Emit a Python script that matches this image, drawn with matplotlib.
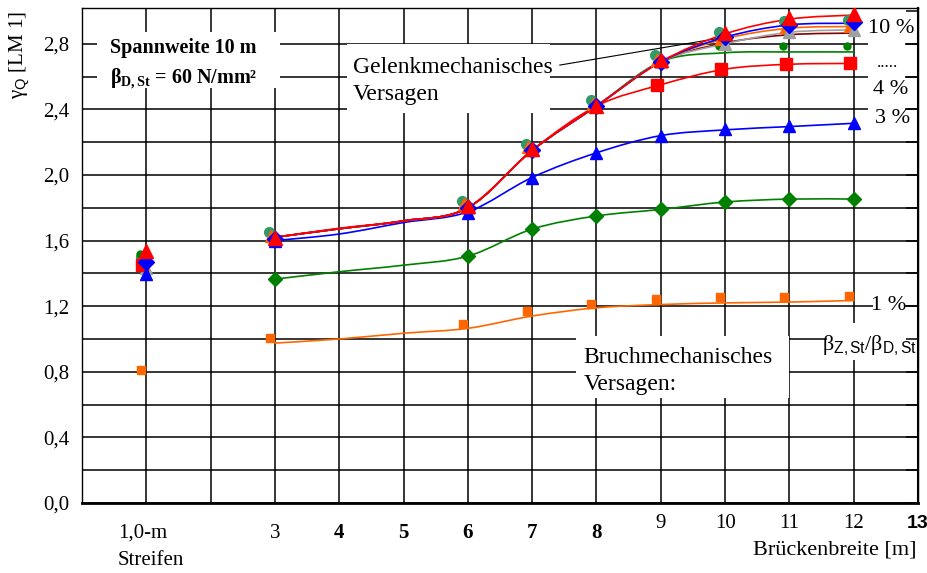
import numpy as np
import matplotlib
matplotlib.use("Agg")
import matplotlib.pyplot as plt
from matplotlib.path import Path
from matplotlib.patches import PathPatch, Rectangle

plt.rcParams['font.family'] = ['Liberation Serif', 'DejaVu Serif']
plt.rcParams['mathtext.fontset'] = 'custom'
plt.rcParams['mathtext.rm'] = 'Liberation Serif'
plt.rcParams['mathtext.it'] = 'Liberation Serif:italic'
plt.rcParams['mathtext.bf'] = 'Liberation Serif:bold'
plt.rcParams['mathtext.sf'] = 'Liberation Sans'

# Brueckenbreite [m]
breite = [3, 4, 5, 6, 7, 8, 9, 10, 11, 12]
breite_pkt = [3, 6, 7, 8, 9, 10, 11, 12]
x_labels = ['3', '4', '5', '6', '7', '8', '9', '10', '11', '12']

# Kurven (geglaettet)
kurve_10 = [1.62, 1.675, 1.72, 1.80, 2.15, 2.42, 2.69, 2.86, 2.95, 2.975]
kurve_9 = [1.62, 1.672, 1.72, 1.80, 2.15, 2.42, 2.69, 2.84, 2.915, 2.925]
kurve_8 = [1.62, 1.672, 1.72, 1.80, 2.15, 2.42, 2.69, 2.83, 2.895, 2.905]
kurve_7 = [1.62, 1.672, 1.72, 1.80, 2.15, 2.42, 2.69, 2.80, 2.87, 2.885]
kurve_6 = [1.62, 1.672, 1.72, 1.80, 2.15, 2.42, 2.69, 2.805, 2.855, 2.865]
kurve_5 = [1.62, 1.672, 1.72, 1.80, 2.15, 2.42, 2.69, 2.745, 2.75, 2.75]
kurve_4 = [1.62, 1.672, 1.72, 1.80, 2.15, 2.42, 2.55, 2.645, 2.675, 2.68]
kurve_3 = [1.60, 1.64, 1.71, 1.775, 1.985, 2.135, 2.24, 2.275, 2.295, 2.315]
kurve_2 = [1.365, 1.41, 1.45, 1.505, 1.67, 1.75, 1.79, 1.835, 1.853, 1.853]
kurve_1 = [0.975, 1.00, 1.035, 1.065, 1.14, 1.19, 1.21, 1.22, 1.225, 1.235]

# Einzelwerte (1,0-m Streifen und Brueckenbreiten)
pkt_10 = [1.535, 1.615, 1.81, 2.16, 2.42, 2.70, 2.865, 2.955, 2.98]
pkt_9 = [1.47, 1.61, 1.80, 2.15, 2.42, 2.69, 2.84, 2.915, 2.93]
pkt_9b = [1.50, 1.65, 1.84, 2.19, 2.46, 2.73, 2.87, 2.94, 2.945]
pkt_8 = [1.49, 1.63, 1.82, 2.17, 2.43, 2.70, 2.83, 2.90, 2.91]
pkt_7 = [1.43, 1.61, 1.80, 2.15, 2.42, 2.69, 2.80, 2.87, 2.885]
pkt_6 = [2.865]
pkt_5 = [1.52, 2.785, 2.785, 2.785]
pkt_4 = [1.45, 2.55, 2.645, 2.675, 2.68]
pkt_3 = [1.395, 1.595, 1.77, 1.98, 2.135, 2.24, 2.28, 2.30, 2.315]
pkt_2 = [1.365, 1.505, 1.67, 1.75, 1.79, 1.835, 1.853, 1.853]
pkt_1 = [0.81, 1.005, 1.09, 1.17, 1.215, 1.245, 1.255, 1.255, 1.265]

x_alle = [1] + breite_pkt
x_5 = [1, 10, 11, 12]
x_4 = [1, 9, 10, 11, 12]


def glatt(ax, xs, ys, farbe, lw=1.2, z=4):
    # Bezier-Glaettung wie bei Excel-Liniendiagrammen
    p = np.column_stack([xs, ys]).astype(float)
    n = len(p)
    verts = [p[0]]
    codes = [Path.MOVETO]
    for i in range(n - 1):
        p0 = p[i - 1] if i > 0 else p[i]
        p3 = p[i + 2] if i + 2 < n else p[i + 1]
        c1 = p[i] + (p[i + 1] - p0) / 6.0
        c2 = p[i + 1] - (p3 - p[i]) / 6.0
        verts += [c1, c2, p[i + 1]]
        codes += [Path.CURVE4] * 3
    ax.add_patch(PathPatch(Path(verts, codes), fill=False, edgecolor=farbe,
                           lw=lw, zorder=z, capstyle='round'))


fig = plt.figure(figsize=(9.28, 5.73), dpi=100)
ax = fig.add_axes([82 / 928, 1 - 503 / 573, 836 / 928, 495 / 573])
ax.set_xlim(0, 13)
ax.set_ylim(0, 3.018)

# Gitter
ax.set_xticks(range(1, 13))
ax.set_xticklabels([])
ax.set_yticks(np.arange(0, 2.81, 0.4))
ax.set_yticklabels(['0,0', '0,4', '0,8', '1,2', '1,6', '2,0', '2,4', '2,8'])
ax.set_yticks(np.arange(0.2, 2.7, 0.4), minor=True)
ax.grid(True, which='both', color='black', lw=1.1)
ax.tick_params(axis='both', which='both', length=0)
ax.tick_params(axis='y', labelsize=15, pad=9)
for s in ['left', 'top', 'right']:
    ax.spines[s].set_linewidth(1.0)
ax.spines['bottom'].set_linewidth(2.0)
ax.spines['bottom'].set_zorder(6)

# x-Beschriftung
for xv, lab in zip(breite, x_labels):
    fett = lab in ['4', '5', '6', '7', '8']
    ax.text(xv, -0.183 if xv < 9 else -0.125, lab, ha='center', va='center',
            fontsize=15, fontweight='bold' if fett else 'normal')
ax.text(0.56, -0.183, '1,0-m', ha='left', va='center', fontsize=15)
ax.text(0.55, -0.35, 'Streifen', ha='left', va='center', fontsize=15)
ax.text(13, -0.125, '13', ha='center', va='center', fontsize=14,
        fontweight='bold', family='Liberation Sans')
ax.text(12.97, -0.285, 'Brückenbreite [m]', ha='right', va='center', fontsize=16)
fig.text(20 / 928, 1 - 55 / 573, r'$\mathrm{\gamma}_{\mathsf{Q}}$ [LM 1]',
         rotation=90, ha='center', va='center', fontsize=15)

# Kurven
glatt(ax, breite, kurve_1, '#FF6600')
glatt(ax, breite, kurve_2, '#008000')
glatt(ax, breite, kurve_3, '#0000FF')
glatt(ax, breite, kurve_5, '#008000', z=4.1)
glatt(ax, breite, kurve_6, '#800000', z=4.2)
glatt(ax, breite, kurve_7, '#A0A0A0', z=4.3)
glatt(ax, breite, kurve_8, '#FF6600', z=4.4)
glatt(ax, breite, kurve_9, '#0000FF', z=4.5)
glatt(ax, breite, kurve_4, '#FF0000', z=4.6)
glatt(ax, breite, kurve_10, '#FF0000', z=4.7)

# Markierungen
mk = dict(ls='none', zorder=5)
ax.plot(np.array(x_alle) - 0.08, pkt_1, marker='s', ms=5.5, color='#FF6600', **mk)
ax.plot(breite_pkt, pkt_2, marker='D', ms=7.5, color='#008000', **mk)
ax.plot(np.array(x_alle) - 0.09, pkt_9b, marker='o', ms=7, color='#339966', **mk)
ax.plot(np.array(x_5) - 0.1, pkt_5, marker='o', ms=5, color='#008000', **mk)
ax.plot([12], pkt_6, marker='v', ms=5, color='#800000', **mk)
ax.plot(np.array(x_alle) - 0.06, pkt_8, marker='^', ms=8, color='#FF6600', **mk)
ax.plot(x_alle, pkt_7, marker='^', ms=9, color='#A0A0A0', **mk)
ax.plot(np.array(x_4) - 0.06, pkt_4, marker='s', ms=8, color='#FF0000', **mk)
ax.plot(x_alle, pkt_9, marker='D', ms=8, color='#0000FF', **mk)
ax.plot(x_alle, pkt_3, marker='^', ms=9, color='#0000FF', **mk)
ax.plot(x_alle, pkt_10, marker='^', ms=10.5, color='#FF0000', **mk)


# Textfelder
def feld(x0, x1, y0, y1):
    ax.add_patch(Rectangle((x0, y0), x1 - x0, y1 - y0, facecolor='white',
                           edgecolor='none', zorder=3))


feld(0.233, 3.08, 2.53, 2.87)
ax.text(0.43, 2.775, 'Spannweite 10 m', fontsize=14.5, fontweight='bold',
        va='center', zorder=7)
ax.text(0.43, 2.585, r'$\mathbf{\beta_{D,St}}$ = 60 N/mm²', fontsize=14.5,
        fontweight='bold', va='center', zorder=7)

feld(4.12, 7.28, 2.38, 2.80)
ax.text(4.21, 2.655, 'Gelenkmechanisches', fontsize=17, va='center', zorder=7)
ax.text(4.21, 2.49, 'Versagen', fontsize=17, va='center', zorder=7)
ax.plot([7.43, 10.0], [2.67, 2.84], color='black', lw=0.8, zorder=3.5)

feld(7.68, 10.99, 0.64, 1.02)
ax.text(7.8, 0.89, 'Bruchmechanisches', fontsize=17, va='center', zorder=7)
ax.text(7.8, 0.725, 'Versagen:', fontsize=17, va='center', zorder=7)

feld(11.58, 13.0, 0.87, 1.10)
ax.text(12.24, 0.96, r'$\mathrm{\beta}_{\mathsf{Z,St}}/\mathrm{\beta}_{\mathsf{D,St}}$',
        fontsize=16, ha='center', va='center', zorder=7)

feld(12.3, 12.8, 1.115, 1.29)
ax.text(12.55, 1.205, '1 %', fontsize=16, ha='center', va='center', zorder=7)

feld(12.22, 12.8, 2.27, 3.0)
ax.text(12.58, 2.895, '10 %', fontsize=16, ha='center', va='center', zorder=7)
ax.text(12.52, 2.685, '.....', fontsize=12, ha='center', va='center', zorder=7)
ax.text(12.58, 2.52, '4 %', fontsize=16, ha='center', va='center', zorder=7)
ax.text(12.6, 2.345, '3 %', fontsize=16, ha='center', va='center', zorder=7)

# rechte Achse mit Strichen nach innen
ax2 = ax.twinx()
ax2.set_ylim(0, 3.018)
ax2.set_yticks(np.arange(0, 3.01, 0.2))
ax2.tick_params(axis='y', direction='in', length=9, width=1.1, labelright=False)
for s in ['left', 'top', 'bottom']:
    ax2.spines[s].set_visible(False)
ax2.spines['right'].set_linewidth(1.5)

fig.savefig('out.png', dpi=100)
